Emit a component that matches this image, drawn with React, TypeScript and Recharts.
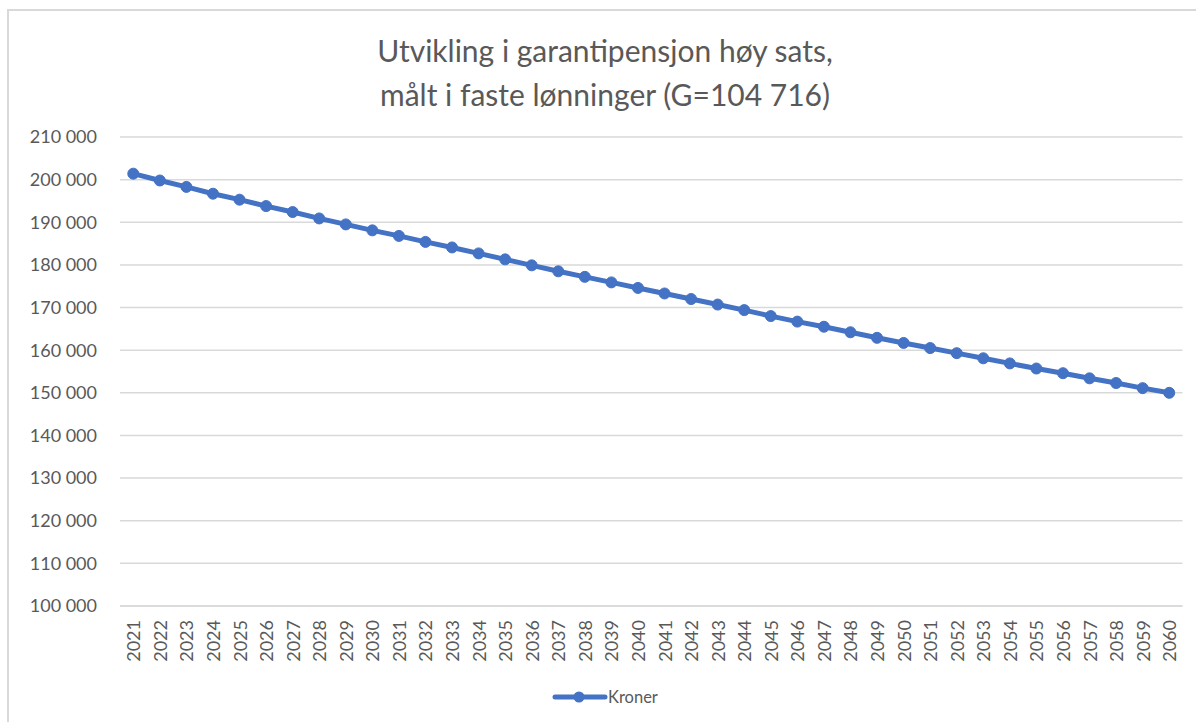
import React from "react";
import { LineChart, Line, XAxis, YAxis, CartesianGrid, Legend } from "recharts";

const years: string[] = [
  "2021","2022","2023","2024","2025","2026","2027","2028","2029","2030",
  "2031","2032","2033","2034","2035","2036","2037","2038","2039","2040",
  "2041","2042","2043","2044","2045","2046","2047","2048","2049","2050",
  "2051","2052","2053","2054","2055","2056","2057","2058","2059","2060",
];

const kroner: number[] = [
  201400, 199800, 198300, 196700, 195300, 193800, 192400, 190900, 189500, 188100,
  186800, 185400, 184100, 182700, 181300, 179900, 178500, 177200, 175900, 174600,
  173300, 172000, 170700, 169400, 168000, 166700, 165500, 164200, 162900, 161700,
  160500, 159300, 158100, 156900, 155700, 154600, 153400, 152300, 151100, 150000,
];

const yTicks: number[] = [100000, 110000, 120000, 130000, 140000, 150000, 160000, 170000, 180000, 190000, 200000, 210000];

const titleLines: string[] = [
  "Utvikling i garantipensjon høy sats,",
  "målt i faste lønninger (G=104 716)",
];

const seriesName = "Kroner";

const data = years.map((y, i) => ({ year: y, Kroner: kroner[i] }));

const FONT = "Lato, Carlito, 'Open Sans', sans-serif";
const GREY = "#595959";
const BLUE = "#4472C4";

const fmt = (v: number) => {
  const s = Math.round(v).toString();
  return s.replace(/\B(?=(\d{3})+(?!\d))/g, " ");
};

const XTick = (props: any) => {
  const { x, y, payload } = props;
  return (
    <text
      x={x}
      y={y}
      transform={`rotate(-90 ${x} ${y})`}
      textAnchor="end"
      dominantBaseline="central"
      fill={GREY}
      fontSize={18}
      fontFamily={FONT}
    >
      {payload.value}
    </text>
  );
};

const LegendContent = () => (
  <div style={{ position: "relative", width: 1196, height: 0 }}>
    <svg
      width={56}
      height={28}
      style={{ position: "absolute", left: 552, top: 0 }}
    >
      <line x1={3} y1={14} x2={53} y2={14} stroke={BLUE} strokeWidth={5} strokeLinecap="round" />
      <circle cx={27} cy={14} r={5.5} fill={BLUE} />
    </svg>
    <span
      style={{
        position: "absolute",
        left: 608,
        top: 0,
        lineHeight: "28px",
        fontSize: 16.5,
        fontFamily: FONT,
        color: GREY,
        whiteSpace: "nowrap",
      }}
    >
      {seriesName}
    </span>
  </div>
);

export default function App() {
  return (
    <div
      style={{
        position: "absolute",
        left: 0,
        top: 0,
        width: 1196,
        height: 722,
        overflow: "hidden",
        background: "#ffffff",
      }}
    >
      <div
        style={{
          position: "absolute",
          left: 7,
          top: 9,
          width: 1300,
          height: 900,
          borderLeft: "2px solid #d9d9d9",
          borderTop: "2px solid #d9d9d9",
        }}
      />
      {titleLines.map((t, i) => (
        <div
          key={i}
          style={{
            position: "absolute",
            left: 0,
            width: 1210,
            top: 60 + i * 44 - 30,
            height: 40,
            lineHeight: "40px",
            textAlign: "center",
            fontFamily: FONT,
            fontSize: 30,
            color: GREY,
            whiteSpace: "nowrap",
          }}
        >
          {t}
        </div>
      ))}
      <div style={{ position: "absolute", left: 0, top: 0 }}>
        <LineChart
          width={1196}
          height={722}
          data={data}
          margin={{ top: 137, right: 13.5, bottom: 16, left: 20 }}
        >
          <CartesianGrid vertical={false} stroke="#d9d9d9" strokeWidth={1.5} />
          <XAxis
            dataKey="year"
            height={100}
            interval={0}
            tick={<XTick />}
            tickLine={false}
            tickSize={0}
            tickMargin={14}
            axisLine={{ stroke: "#d9d9d9", strokeWidth: 1.5 }}
            padding={{ left: 13.28, right: 13.28 }}
          />
          <YAxis
            width={100}
            domain={[100000, 210000]}
            ticks={yTicks}
            interval={0}
            tickFormatter={fmt}
            axisLine={false}
            tickLine={false}
            tickSize={0}
            tickMargin={23}
            tick={{ fill: GREY, fontSize: 18, fontFamily: FONT }}
          />
          <Legend
            verticalAlign="bottom"
            wrapperStyle={{ position: "absolute", left: 0, top: 683, width: 1196, height: 0 }}
            content={() => <LegendContent />}
          />
          <Line
            type="linear"
            dataKey="Kroner"
            name={seriesName}
            stroke={BLUE}
            strokeWidth={5}
            dot={{ r: 5.5, fill: BLUE, stroke: BLUE, strokeWidth: 1 }}
            activeDot={false}
            isAnimationActive={false}
          />
        </LineChart>
      </div>
    </div>
  );
}
